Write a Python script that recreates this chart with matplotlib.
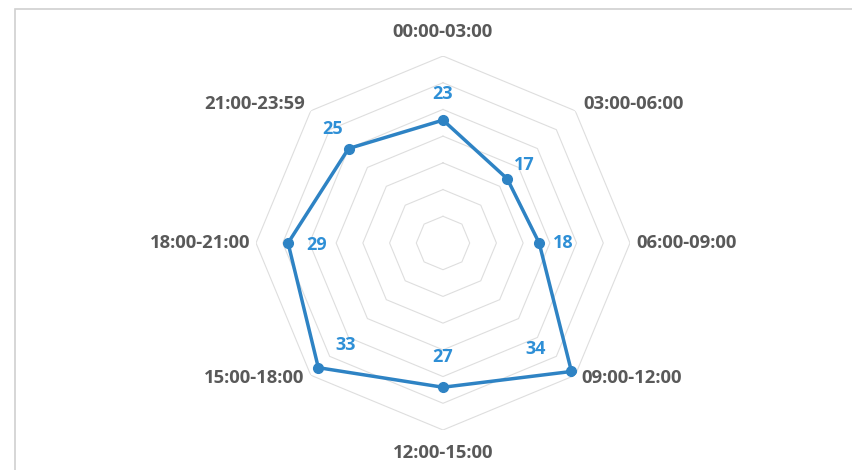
import numpy as np
import matplotlib.pyplot as plt
from matplotlib.patches import Rectangle

# time slots and counts per slot
slots = ['00:00-03:00', '03:00-06:00', '06:00-09:00', '09:00-12:00',
         '12:00-15:00', '15:00-18:00', '18:00-21:00', '21:00-23:59']
counts = [23, 17, 18, 34, 27, 33, 29, 25]
ring_levels = [5, 10, 15, 20, 25, 30, 35]

line_color = '#2E83C4'
label_color = '#2E8FD6'
text_color = '#595959'

plt.rcParams['font.family'] = ['Open Sans', 'DejaVu Sans']

fig = plt.figure(figsize=(8.53, 4.70), dpi=100)
fig.patch.set_facecolor('white')

# light chart-area frame
fig.patches.append(Rectangle((15 / 853, -0.05), 1.1, 1.05 - 9 / 470,
                             transform=fig.transFigure, fill=False,
                             edgecolor='#D0D0D0', linewidth=1.2))

ax = fig.add_axes([256 / 853, 40 / 470, 374 / 853, 374 / 470], projection='polar')
ax.set_theta_zero_location('N')
ax.set_theta_direction(-1)
ax.set_ylim(0, 35)
ax.axis('off')

n = len(slots)
angles = np.arange(n) * 2 * np.pi / n
closed = np.append(angles, angles[0])

# octagonal grid rings
for lvl in ring_levels:
    ax.plot(closed, [lvl] * (n + 1), color='#DEDEDE', lw=0.8, zorder=1)

vals = np.append(counts, counts[0])
ax.plot(closed, vals, color=line_color, lw=2.5, zorder=3)
ax.plot(angles, counts, 'o', color=line_color, ms=7, zorder=4)

# category labels around the outer ring
cat_off = [(0, 24, 'center'), (8, 7, 'left'), (6, 0, 'left'), (6, -3, 'left'),
           (0, -23, 'center'), (-6, -3, 'right'), (-6, 0, 'right'), (-6, 7, 'right')]
for a, s, (dx, dy, ha) in zip(angles, slots, cat_off):
    ax.annotate(s, xy=(a, 35), xytext=(dx, dy), textcoords='offset pixels',
                ha=ha, va='center', fontsize=13.3, fontweight='bold',
                color=text_color, annotation_clip=False)

# value labels next to each point
val_off = [(0, 26), (17, 14), (24, 0), (-36, 22), (0, 30), (27, 23), (29, -2), (-16, 20)]
for a, v, (dx, dy) in zip(angles, counts, val_off):
    ax.annotate(str(v), xy=(a, v), xytext=(dx, dy), textcoords='offset pixels',
                ha='center', va='center', fontsize=13, fontweight='bold',
                color=label_color, annotation_clip=False)

fig.savefig('out.png', dpi=100, facecolor='white')
